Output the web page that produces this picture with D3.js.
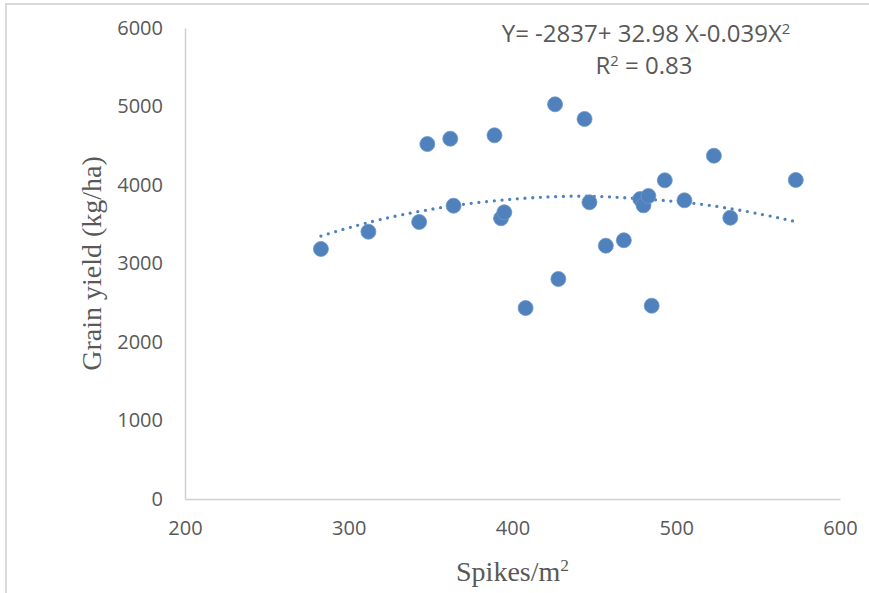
<!DOCTYPE html>
<html>
<head>
<meta charset="utf-8">
<script src="https://cdn.jsdelivr.net/npm/d3@7"></script>
<style>
  body { margin: 0; background: #fff; }
  svg { display: block; }
  .tick-label { font-family: "Open Sans", sans-serif; font-size: 20px; fill: #595959; }
  .axis-title { font-family: "Liberation Serif", "Times New Roman", serif; font-size: 28px; fill: #595959; }
  .eq { font-family: "Open Sans", sans-serif; font-size: 24px; fill: #595959; }
</style>
</head>
<body>
<svg id="chart" width="869" height="593"></svg>
<script>
// spikes per m2 (x) and grain yield kg/ha (y)
const spikes = [283, 312, 343, 348, 362, 364, 389, 393, 395, 408, 426, 428, 444, 447,
  457, 468, 478, 480, 483, 485, 493, 505, 523, 533, 573];
const grainYield = [3185, 3405, 3529, 4522, 4590, 3736, 4633, 3576, 3652, 2433, 5028, 2803, 4841, 3780,
  3227, 3296, 3822, 3741, 3860, 2462, 4060, 3805, 4373, 3583, 4064];
// dotted polynomial trendline
const trendX = [283, 320, 375, 433, 471, 514, 553, 573];
const trendY = [3350, 3563, 3767, 3856, 3834, 3758, 3622, 3532];
const xTicks = [200, 300, 400, 500, 600];
const yTicks = [0, 1000, 2000, 3000, 4000, 5000, 6000];
const eqLine = "Y= -2837+ 32.98 X-0.039X";
const r2Text = " = 0.83";

const svg = d3.select("#chart");
const plot = { left: 185, right: 840, top: 28, bottom: 499 };

// outer chart frame (cut off at right/bottom like the source)
svg.append("rect")
  .attr("x", 6).attr("y", 4)
  .attr("width", 900).attr("height", 700)
  .attr("fill", "none")
  .attr("stroke", "#d9d9d9")
  .attr("stroke-width", 2);

const x = d3.scaleLinear().domain([200, 600]).range([plot.left, plot.right]);
const y = d3.scaleLinear().domain([0, 6000]).range([plot.bottom, plot.top]);

// axes: only domain lines, labels drawn by axis
const xAx = svg.append("g")
  .attr("transform", `translate(0,${plot.bottom})`)
  .call(d3.axisBottom(x).tickValues(xTicks).tickFormat(d3.format("d")).tickSize(0).tickPadding(22));
const yAx = svg.append("g")
  .attr("transform", `translate(${plot.left},0)`)
  .call(d3.axisLeft(y).tickValues(yTicks).tickFormat(d3.format("d")).tickSize(0).tickPadding(22));

[xAx, yAx].forEach((g) => {
  g.select(".domain").attr("stroke", "#d0d0d0").attr("stroke-width", 1.5);
  g.selectAll(".tick text")
    .attr("class", "tick-label")
    .attr("font-family", null).attr("font-size", null).attr("fill", null);
});
xAx.selectAll(".tick text").attr("dy", "0.71em");

// trendline
const line = d3.line()
  .x((d, i) => x(d))
  .y((d, i) => y(trendY[i]))
  .curve(d3.curveNatural);

svg.append("path")
  .datum(trendX)
  .attr("d", line)
  .attr("fill", "none")
  .attr("stroke", "#4f81bd")
  .attr("stroke-width", 3.3)
  .attr("stroke-linecap", "round")
  .attr("stroke-dasharray", "0 7.7");

// scatter points
svg.append("g")
  .selectAll("circle")
  .data(spikes)
  .join("circle")
  .attr("cx", (d) => x(d))
  .attr("cy", (d, i) => y(grainYield[i]))
  .attr("r", 7.5)
  .attr("fill", "#4f81bd")
  .attr("stroke", "#6d96c9")
  .attr("stroke-width", 0.8);

// equation label
const eq1 = svg.append("text").attr("class", "eq")
  .attr("x", 646).attr("y", 42).attr("text-anchor", "middle");
eq1.append("tspan").text(eqLine);
eq1.append("tspan").attr("font-size", "0.62em").attr("dy", "-0.55em").text("2");

const eq2 = svg.append("text").attr("class", "eq")
  .attr("x", 644).attr("y", 74).attr("text-anchor", "middle");
eq2.append("tspan").text("R");
eq2.append("tspan").attr("font-size", "0.62em").attr("dy", "-0.55em").text("2");
eq2.append("tspan").attr("dy", "0.34em").text(r2Text);

// axis titles
svg.append("text").attr("class", "axis-title")
  .attr("transform", `translate(101,${(plot.top + plot.bottom) / 2}) rotate(-90)`)
  .attr("text-anchor", "middle")
  .text("Grain yield (kg/ha)");

const xt = svg.append("text").attr("class", "axis-title")
  .attr("x", (plot.left + plot.right) / 2).attr("y", 581)
  .attr("text-anchor", "middle");
xt.append("tspan").text("Spikes/m");
xt.append("tspan").attr("font-size", "0.62em").attr("dy", "-0.6em").text("2");
</script>
</body>
</html>
